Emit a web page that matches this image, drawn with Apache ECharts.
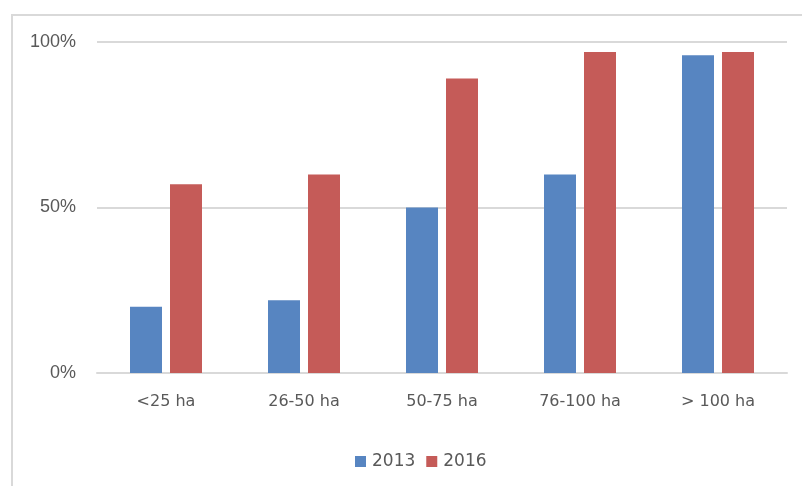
<!DOCTYPE html>
<html>
<head>
<meta charset="utf-8">
<script src="https://cdn.jsdelivr.net/npm/echarts@6/dist/echarts.min.js"></script>
<style>
html,body{margin:0;padding:0;background:#fff;}
#chart{width:802px;height:486px;}
</style>
</head>
<body>
<div id="chart"></div>
<script>
var categories = ['<25 ha', '26-50 ha', '50-75 ha', '76-100 ha', '> 100 ha'];
var seriesNames = ['2013', '2016'];
var values2013 = [20, 22, 50, 60, 96];
var values2016 = [57, 60, 89, 97, 97];
var yTicks = [0, 50, 100];

var textColor = '#595959';
var font = 'DejaVu Sans';
var chart = echarts.init(document.getElementById('chart'), null, {renderer: 'canvas'});
chart.setOption({
  backgroundColor: '#ffffff',
  animation: false,
  graphic: [{
    type: 'rect',
    left: 9.5, top: 12.5,
    shape: {width: 900, height: 600},
    style: {fill: 'none', stroke: '#d9d9d9', lineWidth: 2},
    silent: true
  }],
  grid: {left: 97, right: 15, top: 42, bottom: 113, containLabel: false},
  legend: {
    data: seriesNames,
    left: 350,
    top: 448,
    itemWidth: 11,
    itemHeight: 11,
    itemGap: 11,
    icon: 'rect',
    textStyle: {color: textColor, fontFamily: font, fontSize: 17, padding: [0,0,0,1]}
  },
  xAxis: {
    type: 'category',
    data: categories,
    axisLine: {show: true, lineStyle: {color: '#d9d9d9', width: 2}},
    axisTick: {show: false},
    axisLabel: {color: textColor, fontFamily: font, fontSize: 16, margin: 21}
  },
  yAxis: {
    type: 'value',
    min: yTicks[0],
    max: yTicks[yTicks.length - 1],
    interval: 50,
    axisLine: {show: false},
    axisTick: {show: false},
    splitLine: {lineStyle: {color: '#d9d9d9', width: 2}},
    axisLabel: {color: textColor, fontFamily: 'Liberation Sans', fontSize: 18, margin: 21, formatter: '{value}%'}
  },
  series: [
    {name: seriesNames[0], type: 'bar', data: values2013, barWidth: 32, barGap: '25%',
     itemStyle: {color: '#5785c1'}},
    {name: seriesNames[1], type: 'bar', data: values2016, barWidth: 32, barGap: '25%',
     itemStyle: {color: '#c55b58'}}
  ]
});
</script>
</body>
</html>
